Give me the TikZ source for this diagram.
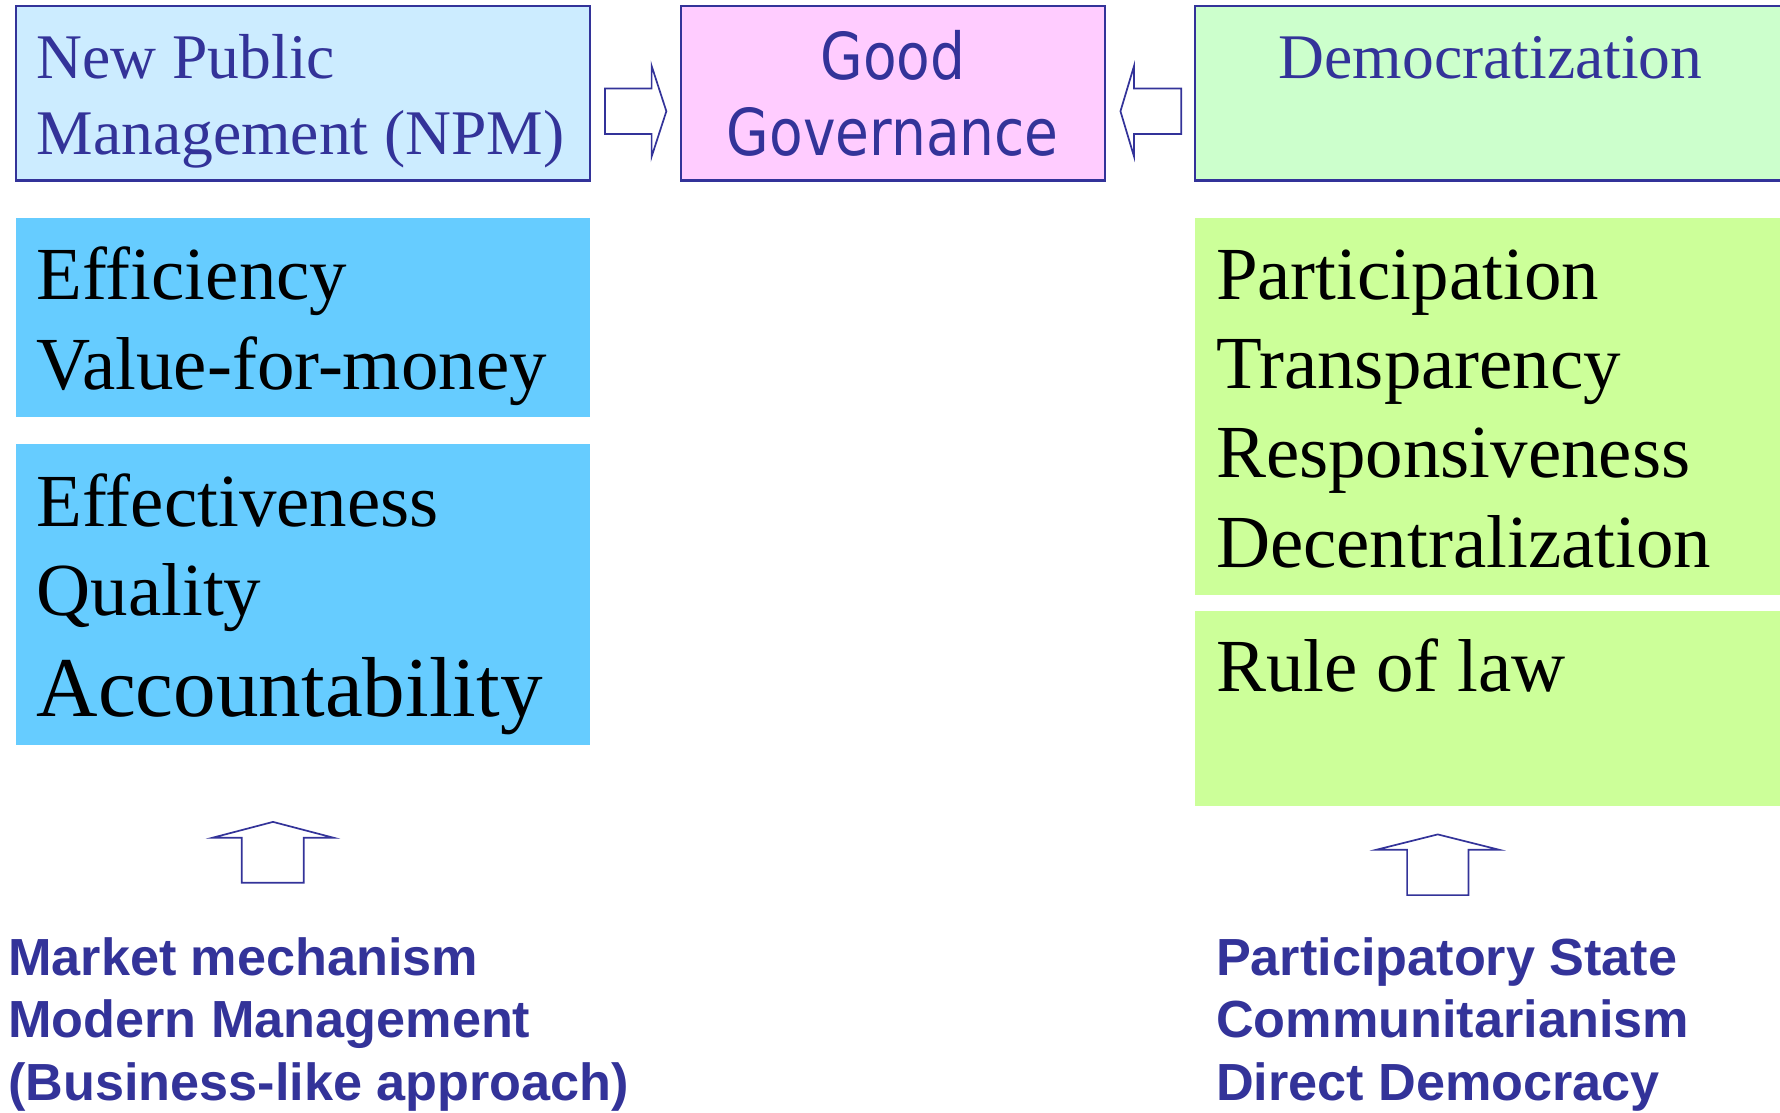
\documentclass[tikz,border=0pt]{standalone}
\usepackage{fontspec}
\setmainfont{Liberation Serif}
\newfontfamily\ggfont[FakeStretch=0.85]{DejaVu Sans}
\newfontfamily\srcfont{Liberation Sans}
\usetikzlibrary{positioning}

\definecolor{navy}{HTML}{333399}
\definecolor{npmfill}{HTML}{CCECFF}
\definecolor{ggfill}{HTML}{FFCCFF}
\definecolor{demfill}{HTML}{CCFFCC}
\definecolor{npmbody}{HTML}{66CCFF}
\definecolor{dembody}{HTML}{CCFF99}

\begin{document}
\begin{tikzpicture}[x = 1pt, y = -1pt,
headbox/.style = {shape = rectangle, draw = navy, line width = 1.8pt, inner sep = 0, outer sep = 0, anchor = north west},
bodybox/.style = {shape = rectangle, inner sep = 0, outer sep = 0, anchor = north west},
headtxt/.style = {text = navy, inner sep = 0, font = \fontsize{56}{67}\selectfont},
ggtxt/.style = {text = navy, inner sep = 0, anchor = base, font = \ggfont\fontsize{57}{67}\selectfont},
bodytxt/.style = {text = black, inner sep = 0, anchor = base west, font = \fontsize{66}{79}\selectfont},
srctxt/.style = {text = navy, inner sep = 0, anchor = base west, font = \srcfont\bfseries\fontsize{46}{55}\selectfont},
blockarrow/.style = {draw = navy, line width = 1.5pt, line join = miter, fill = white},
]
\useasboundingbox (0,0) rectangle (1568,980);

% top row
\node[headbox, fill = npmfill, minimum width = 506pt, minimum height = 154pt] (npm) at (14,5) {};
\node[headbox, fill = ggfill, minimum width = 373pt, minimum height = 154pt, right = 80pt of npm.north east, anchor = north west] (gg) {};
\node[headbox, fill = demfill, minimum width = 530pt, minimum height = 154pt, right = 80pt of gg.north east, anchor = north west] (dem) {};

\node[headtxt, anchor = base west] (npmA) at (32,69) {New Public};
\node[headtxt, anchor = base west] (npmB) at (32,136.5) {Management (NPM)};
\node[ggtxt] (ggA) at (786.5,70) {Good};
\node[ggtxt] (ggB) at (786.5,137) {Governance};
\node[headtxt, anchor = base] (demA) at (1313,69) {Democratization};

\draw[blockarrow] (533,78) -- (574,78) -- (574,58) -- (587,98) -- (574,138) -- (574,118) -- (533,118) -- cycle;
\draw[blockarrow] (1040.5,78) -- (999,78) -- (999,58) -- (987,98) -- (999,138) -- (999,118) -- (1040.5,118) -- cycle;

% left column
\node[bodybox, fill = npmbody, minimum width = 506pt, minimum height = 175pt] (eff) at (14,192) {};
\node[bodybox, fill = npmbody, minimum width = 506pt, minimum height = 265pt] (qual) at (14,391) {};

\node[bodytxt] (effA) at (32,264) {Efficiency};
\node[bodytxt] (effB) at (32,343) {Value-for-money};
\node[bodytxt] (qualA) at (32,464) {Effectiveness};
\node[bodytxt] (qualB) at (32,542) {Quality};
\node[bodytxt, font = \fontsize{75}{90}\selectfont] (qualC) at (32,631) {Accountability};

% right column
\node[bodybox, fill = dembody, minimum width = 530pt, minimum height = 332pt] (part) at (1053,192) {};
\node[bodybox, fill = dembody, minimum width = 530pt, minimum height = 172pt] (rule) at (1053,538) {};

\node[bodytxt] (partA) at (1071,264) {Participation};
\node[bodytxt] (partB) at (1071,342) {Transparency};
\node[bodytxt] (partC) at (1071,421) {Responsiveness};
\node[bodytxt] (partD) at (1071,500) {Decentralization};
\node[bodytxt] (ruleA) at (1071,609) {Rule of law};

% sources
\draw[blockarrow] (213,777.6) -- (213,738) -- (187,738) -- (240.5,724) -- (294,738) -- (267.5,738) -- (267.5,777.6) -- cycle;
\draw[blockarrow] (1239.5,788.5) -- (1239.5,748.5) -- (1212.5,748.5) -- (1266.5,735) -- (1320.5,748.5) -- (1293.5,748.5) -- (1293.5,788.5) -- cycle;

\node[srctxt] (mktA) at (7,859) {Market mechanism};
\node[srctxt] (mktB) at (7,914) {Modern Management};
\node[srctxt] (mktC) at (7,969) {(Business-like approach)};
\node[srctxt] (stA) at (1071,859) {Participatory State};
\node[srctxt] (stB) at (1071,914) {Communitarianism};
\node[srctxt] (stC) at (1071,969) {Direct Democracy};
\end{tikzpicture}
\end{document}
